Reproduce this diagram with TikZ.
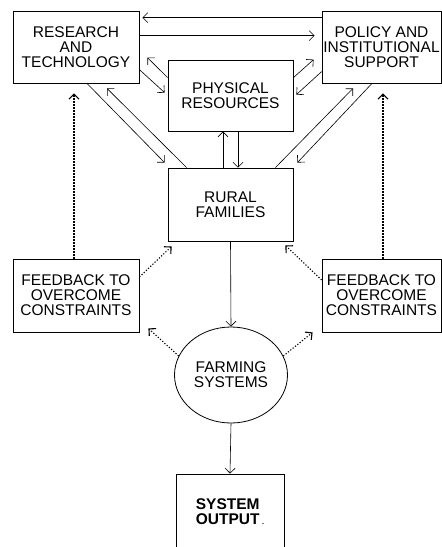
\documentclass[tikz,border=0pt]{standalone}
\usepackage{fontspec}
\setmainfont{Liberation Sans}
\usetikzlibrary{arrows.meta,calc,shapes.geometric}

\begin{document}
\begin{tikzpicture}[x=1pt,y=-1pt,>={Straight Barb[length=5pt,width=10pt]},font=\fontsize{15.5}{15}\selectfont,line width=0.6pt]
\tikzstyle{b}=[draw,line width=0.8pt,align=center,inner sep=0pt]
\tikzstyle{dt}=[->,line width=1.1pt,dash pattern=on 1.2pt off 1.8pt]
\useasboundingbox (0,0) rectangle (442,547);
% boxes: name/x/y/width/height/text
\foreach \n/\x/\y/\w/\h/\t in {rt/76/47/126/72/{RESEARCH\\AND\\TECHNOLOGY},pi/381.5/47/119/72/{POLICY AND\\INSTITUTIONAL\\SUPPORT},pr/230.5/95.5/125/71/{PHYSICAL\\RESOURCES},rf/230.5/204.5/125/73/{RURAL\\FAMILIES},fl/76/295.5/126/73/{FEEDBACK TO\\OVERCOME\\CONSTRAINTS},fr/381.5/295.5/119/73/{FEEDBACK TO\\OVERCOME\\CONSTRAINTS}}
  \node[b,minimum width=\w pt,minimum height=\h pt] (\n) at (\x,\y) {\t};
\node[b,ellipse,minimum width=113pt,minimum height=96pt] (fs) at (231,375) {FARMING\\SYSTEMS};
\node[b,align=left,minimum width=108pt,minimum height=75pt,font=\fontsize{15.5}{15}\selectfont\bfseries] (so) at (230,511.5) {SYSTEM\\OUTPUT\,{\scriptsize .}};
% links along the top
\draw[->] ($(pi.north west)+(0,7)$) -- ($(rt.north east)+(3,7)$);
\draw[->] ($(rt.north east)+(0,25)$) -- ($(pi.north west)+(-7,25)$);
\draw[->] ($(pr.north west)+(0,18)$) -- ($(rt.north east)+(8,47)$);
\draw[->] ($(rt.north east)+(0,59)$) -- ($(pr.north west)+(-3,33)$);
\draw[->] ($(pr.north east)+(0,18)$) -- ($(pi.north west)+(-8,49)$);
\draw[->] ($(pi.north west)+(0,61)$) -- ($(pr.north east)+(3,35)$);
% rural families to and from the top row
\draw[->] ($(rt.south)+(11,0)$) -- ($(rf.north west)+(-3,-5)$);
\draw[->] ($(rf.north west)+(19,0)$) -- ($(rt.south)+(31,5)$);
\draw[->] ($(rf.north east)+(-18,0)$) -- ($(pi.south)+(-28.5,5)$);
\draw[->] ($(pi.south)+(-9.5,0)$) -- ($(rf.north east)+(4,-5)$);
\draw[->] ($(rf.north)+(-7.5,0)$) -- ($(pr.south)+(-7.5,0)$);
\draw[->] ($(pr.south)+(7.5,0)$) -- ($(rf.north)+(7.5,0)$);
% main flow down
\draw[->] (rf.south) -- (fs.north);
\draw[->] (fs.south) -- (so.north);
% feedback loops
\draw[dt] ($(fl.north)+(-2,0)$) -- ($(rt.south)+(-2,10)$);
\draw[dt] ($(fr.north)+(1.5,0)$) -- ($(pi.south)+(1.5,10)$);
\draw[dt] ($(fl.east)+(0,-18.5)$) -- ($(rf.south west)+(4,5)$);
\draw[dt] ($(fr.west)+(0,-15.5)$) -- ($(rf.south east)+(-8,4)$);
\draw[dt] (fs.160) -- ($(fl.south east)+(9,-4)$);
\draw[dt] (fs.20) -- ($(fr.south west)+(-9,0)$);
\end{tikzpicture}
\end{document}
